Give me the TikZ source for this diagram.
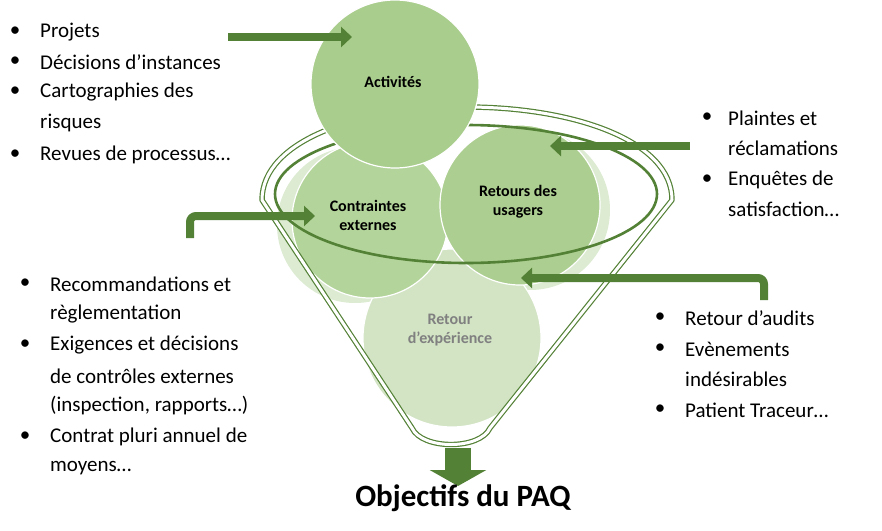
\documentclass[tikz,border=0pt]{standalone}
\usepackage{fontspec}
\setmainfont{Carlito}
\usetikzlibrary{arrows.meta}
\definecolor{dg}{HTML}{538135}
\definecolor{cA}{HTML}{A9CD8C}
\definecolor{cB}{HTML}{B3D49A}
\definecolor{cC}{HTML}{ACCE90}
\definecolor{cD}{HTML}{D2E4C4}
\definecolor{cF}{HTML}{DCEBD2}
\tikzset{
  bub/.style={draw=white,line width=1.2pt},
  lbl/.style={font=\bfseries\fontsize{16}{19}\selectfont,align=center,text=black},
  txt/.style={anchor=west,inner sep=0pt,font=\fontsize{21}{25}\selectfont},
  bul/.style={anchor=center,inner sep=0pt,font=\fontsize{21}{25}\selectfont},
  bigarrow/.style={line width=8pt,draw=dg,-{Triangle[width=20pt,length=11pt]}},
  inarrow/.style={line width=4pt,draw=cC!70!dg,shorten >=10pt}
}
\begin{document}
\begin{tikzpicture}[x=1pt,y=-1pt]
\useasboundingbox (0,0) rectangle (882,530);
% faint background circles
\fill[cF] (355,225) circle (78);
\fill[cF] (530,210) circle (80);
% circles
\fill[bub,fill=cD] (452,338) circle (89);
\fill[bub,fill=cB] (370,220) circle (78);
\fill[bub,fill=cC] (520,205) circle (80);
% funnel
\draw[dg,line width=1.2pt,double=white,double distance=3pt,line join=round]
  (262,200) .. controls (262,140) and (360,107) .. (466,107)
  .. controls (572,107) and (672,140) .. (672,200)
  -- (490,428) .. controls (480,450) and (422,450) .. (412,428) -- cycle;
\draw[dg,line width=2.6pt] (466,194) ellipse [x radius=191,y radius=69];
% activites
\fill[bub,fill=cA] (395,84) circle (84);
\node[lbl] (act) at (393,82) {Activités};
\node[lbl] (con) at (368,215) {Contraintes\\externes};
\node[lbl] (ret) at (518,202) {Retours des\\usagers};
\node[lbl,text=gray] (rex) at (450,330) {Retour\\d'expérience};
% spout
\coordinate (sp0) at (458,448);
\coordinate (sp1) at (458,486);
\draw[line width=26pt,draw=dg,-{Triangle[width=56pt,length=16pt]}] (sp0) -- (sp1);
\node[font=\bfseries\fontsize{31}{36}\selectfont,inner sep=0pt] (obj) at (463,498) {Objectifs du PAQ};
% arrows
\coordinate (a1s) at (228,37); \coordinate (a1e) at (352,37);
\draw[bigarrow] (a1s) -- (a1e);
\coordinate (a2s) at (190,238); \coordinate (a2e) at (315,216);
\draw[bigarrow,rounded corners=6pt] (a2s) |- (a2e);
\coordinate (a3s) at (690,146); \coordinate (a3e) at (550,146);
\draw[bigarrow] (a3s) -- (a3e);
\coordinate (a4s) at (764,300); \coordinate (a4e) at (521,278);
\draw[bigarrow,rounded corners=6pt] (a4s) |- (a4e);
% left top text
\foreach \n/\y in {b1/32,b2/62,b3/92,b4/155}{\node[bul] (\n) at (15,\y) {•};}
\node[txt] (t1) at (40,32) {Projets};
\node[txt] (t2) at (40,62) {Décisions d’instances};
\node[txt] (t3) at (40,92) {Cartographies des};
\node[txt] (t3b) at (40,123) {risques};
\node[txt] (t4) at (40,155) {Revues de processus…};
% right top
\foreach \n/\y in {c1/118,c2/180}{\node[bul] (\n) at (707,\y) {•};}
\node[txt] (u1) at (728,118) {Plaintes et};
\node[txt] (u1b) at (728,148) {réclamations};
\node[txt] (u2) at (728,180) {Enquêtes de};
\node[txt] (u2b) at (728,209) {satisfaction…};
% left bottom
\foreach \n/\y in {d1/284,d2/345,d3/437}{\node[bul] (\n) at (25,\y) {•};}
\node[txt] (v1) at (50,284) {Recommandations et};
\node[txt] (v1b) at (50,314) {règlementation};
\node[txt] (v2) at (50,345) {Exigences et décisions};
\node[txt] (v2b) at (50,376) {de contrôles externes};
\node[txt] (v2c) at (50,406) {(inspection, rapports…)};
\node[txt] (v3) at (50,437) {Contrat pluri annuel de};
\node[txt] (v3b) at (50,468) {moyens…};
% right bottom
\foreach \n/\y in {e1/318,e2/349,e3/410}{\node[bul] (\n) at (660,\y) {•};}
\node[txt] (w1) at (685,318) {Retour d’audits};
\node[txt] (w2) at (685,349) {Evènements};
\node[txt] (w2b) at (685,379) {indésirables};
\node[txt] (w3) at (685,410) {Patient Traceur…};
\end{tikzpicture}
\end{document}
